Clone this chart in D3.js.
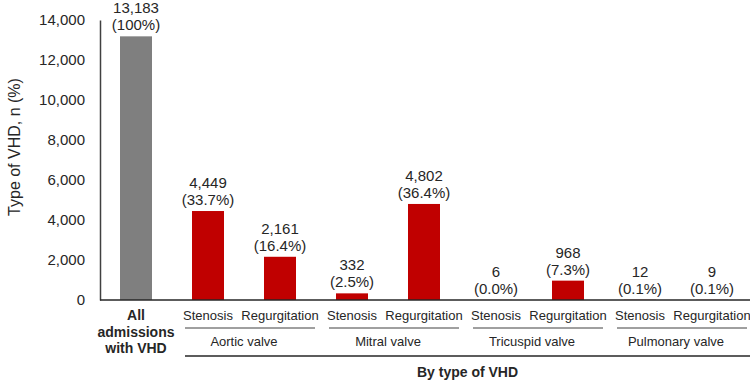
<!DOCTYPE html>
<html>
<head>
<meta charset="utf-8">
<script src="https://cdn.jsdelivr.net/npm/d3@7"></script>
<style>
  body { margin: 0; background: #fff; }
  svg text { font-family: "Liberation Sans", Arial, sans-serif; fill: #262626; }
</style>
</head>
<body>
<div class="chart"></div>
<script>
const WIDTH = 750;
const HEIGHT = 382;

// data
var keys = ['all', 'as', 'ar', 'ms', 'mr', 'ts', 'tr', 'ps', 'pr'];
var types = ['', 'Stenosis', 'Regurgitation', 'Stenosis', 'Regurgitation', 'Stenosis', 'Regurgitation', 'Stenosis', 'Regurgitation'];
var counts = [13183, 4449, 2161, 332, 4802, 6, 968, 12, 9];
var percents = ['100%', '33.7%', '16.4%', '2.5%', '36.4%', '0.0%', '7.3%', '0.1%', '0.1%'];
var valves = ['Aortic valve', 'Mitral valve', 'Tricuspid valve', 'Pulmonary valve'];
var valveKeys = [['as', 'ar'], ['ms', 'mr'], ['ts', 'tr'], ['ps', 'pr']];
var yTicks = [0, 2000, 4000, 6000, 8000, 10000, 12000, 14000];

var fmt = d3.format(',');

var svg = d3.select('.chart').append('svg')
    .attr('width', WIDTH)
    .attr('height', HEIGHT);

var x = d3.scaleBand()
    .domain(keys)
    .range([100, 748])
    .paddingInner(40 / 72)
    .paddingOuter(20 / 72);

var y = d3.scaleLinear()
    .domain([0, 14000])
    .range([300, 20]);

// y axis
var yAxis = svg.append('g')
    .attr('transform', 'translate(100,0)')
    .call(d3.axisLeft(y).tickValues(yTicks).tickSize(0).tickPadding(15).tickFormat(fmt));
yAxis.select('.domain').attr('stroke', '#404040').attr('stroke-width', 1.5);
yAxis.selectAll('text')
    .style('font-size', '15px')
    .style('font-family', '"Liberation Sans", Arial, sans-serif')
    .attr('fill', '#262626');

svg.append('text')
    .attr('transform', 'translate(20,147) rotate(-90)')
    .attr('text-anchor', 'middle')
    .style('font-size', '16px')
    .text('Type of VHD, n (%)');

// bars
var rows = keys.map(function (k, i) {
    return { key: k, n: counts[i], pct: percents[i], type: types[i] };
});

svg.append('g').selectAll('rect').data(rows)
    .enter().append('rect')
    .attr('x', function (d) { return x(d.key); })
    .attr('y', function (d) { return y(d.n); })
    .attr('width', x.bandwidth())
    .attr('height', function (d) { return y(0) - y(d.n); })
    .attr('fill', function (d) { return d.key === 'all' ? '#7f7f7f' : '#c00000'; });

// value labels
var labels = svg.append('g').selectAll('text').data(rows)
    .enter().append('text')
    .attr('text-anchor', 'middle')
    .style('font-size', '15px')
    .attr('x', function (d) { return x(d.key) + x.bandwidth() / 2; });
labels.append('tspan')
    .attr('x', function (d) { return x(d.key) + x.bandwidth() / 2; })
    .attr('y', function (d) { return y(d.n) - 23; })
    .text(function (d) { return fmt(d.n); });
labels.append('tspan')
    .attr('x', function (d) { return x(d.key) + x.bandwidth() / 2; })
    .attr('y', function (d) { return y(d.n) - 6; })
    .text(function (d) { return '(' + d.pct + ')'; });

// baseline
svg.append('line')
    .attr('x1', 100).attr('x2', WIDTH)
    .attr('y1', y(0)).attr('y2', y(0))
    .attr('stroke', '#262626').attr('stroke-width', 1.5);

// category labels
svg.append('g').selectAll('text').data(rows.filter(function (d) { return d.type; }))
    .enter().append('text')
    .attr('x', function (d) { return x(d.key) + x.bandwidth() / 2; })
    .attr('y', 320)
    .attr('text-anchor', 'middle')
    .style('font-size', '13px')
    .text(function (d) { return d.type; });

// all admissions label
var allLab = svg.append('text')
    .attr('text-anchor', 'middle')
    .style('font-size', '14px')
    .style('font-weight', 'bold');
['All', 'admissions', 'with VHD'].forEach(function (t, i) {
    allLab.append('tspan')
        .attr('x', x('all') + x.bandwidth() / 2)
        .attr('y', 320 + i * 16.5)
        .text(t);
});

// valve groups
valves.forEach(function (v, i) {
    var a = x(valveKeys[i][0]) - 7;
    var b = x(valveKeys[i][1]) + x.bandwidth() + 19;
    svg.append('line')
        .attr('x1', a).attr('x2', b)
        .attr('y1', 328).attr('y2', 328)
        .attr('stroke', '#404040').attr('stroke-width', 1);
    svg.append('text')
        .attr('x', (x(valveKeys[i][0]) + x(valveKeys[i][1]) + x.bandwidth()) / 2)
        .attr('y', 346)
        .attr('text-anchor', 'middle')
        .style('font-size', '13px')
        .text(v);
});

var gx0 = x('as') - 7;
svg.append('line')
    .attr('x1', gx0).attr('x2', WIDTH)
    .attr('y1', 356).attr('y2', 356)
    .attr('stroke', '#262626').attr('stroke-width', 1.5);
svg.append('text')
    .attr('x', (gx0 + WIDTH) / 2)
    .attr('y', 377)
    .attr('text-anchor', 'middle')
    .style('font-size', '14px')
    .style('font-weight', 'bold')
    .text('By type of VHD');
</script>
</body>
</html>
